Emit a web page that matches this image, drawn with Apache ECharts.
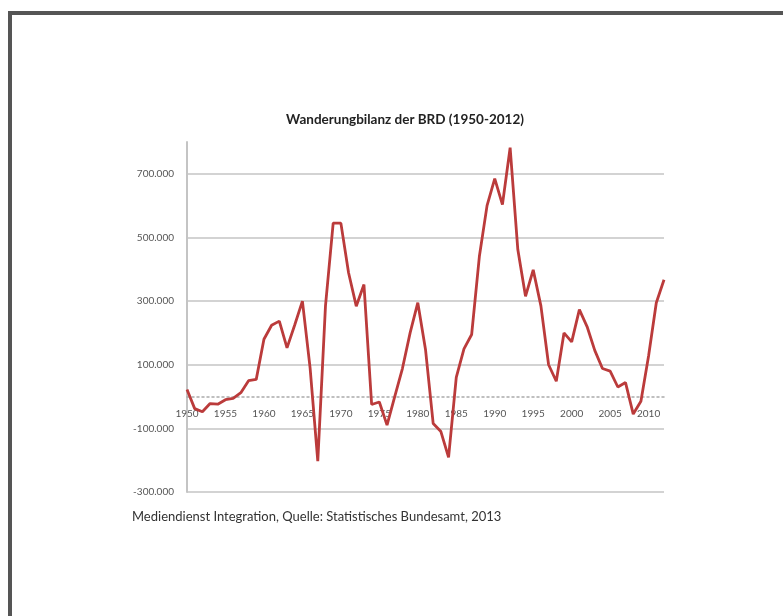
<!DOCTYPE html>
<html>
<head>
<meta charset="utf-8">
<script src="https://cdn.jsdelivr.net/npm/echarts@6/dist/echarts.min.js"></script>
<style>
  html, body { margin: 0; padding: 0; background: #fff; overflow: hidden; }
  #container { width: 783px; height: 616px; }
</style>
</head>
<body>
<div id="container"></div>
<script>
  var years = [];
  for (var y = 1950; y <= 2012; y++) years.push(String(y));

  // Wanderungssaldo
  var saldo = [
    22000, -38000, -48000, -22000, -24000, -10000, -6000, 12000, 50000, 54000,
    180000, 224000, 237000, 153000, 225000, 300000, 90000, -203000, 285000, 545000,
    545000, 389000, 284000, 352000, -25000, -17000, -90000, 0, 88000, 200000,
    295000, 148000, -85000, -110000, -191000, 60000, 150000, 195000, 440000, 600000,
    685000, 603000, 782000, 462000, 315000, 398000, 285000, 100000, 48000, 200000,
    172000, 273000, 220000, 145000, 88000, 80000, 30000, 44000, -55000, -15000,
    128000, 295000, 367000
  ];

  var titleText = 'Wanderungbilanz der BRD (1950-2012)';
  var sourceText = 'Mediendienst Integration, Quelle: Statistisches Bundesamt, 2013';

  var yMin = -300000, yMax = 800000, yStep = 200000;
  var gridTop = 142, gridBottom = 124, gridHeight = 616 - gridTop - gridBottom;
  // lift the category axis (line + year labels) up to the zero line
  var zeroOffset = -gridHeight * (0 - yMin) / (yMax - yMin);

  function fmt(v) {
    var k = Math.round(Math.abs(v) / 1000);
    return (v < 0 ? '-' : '') + k + '.000';
  }

  var chart = echarts.init(document.getElementById('container'), null, { renderer: 'canvas' });

  chart.setOption({
    animation: false,
    textStyle: { fontFamily: 'Lato, sans-serif' },
    grid: { left: 187, right: 119, top: gridTop, bottom: gridBottom },
    graphic: [
      {
        type: 'rect',
        shape: { x: 10, y: 13, width: 820, height: 700 },
        style: { fill: 'none', stroke: '#555', lineWidth: 4 }
      },
      {
        type: 'text', x: 405, y: 120,
        style: {
          text: titleText, align: 'center', verticalAlign: 'middle',
          font: 'bold 13.5px Lato, sans-serif', fill: '#222'
        }
      },
      {
        type: 'text', x: 132, y: 517,
        style: {
          text: sourceText, align: 'left', verticalAlign: 'middle',
          font: '13px Lato, sans-serif', fill: '#333'
        }
      }
    ],
    xAxis: {
      type: 'category',
      data: years,
      boundaryGap: false,
      offset: zeroOffset,
      axisLine: { onZero: false, lineStyle: { color: '#aaa', width: 1.5, type: [2, 3] } },
      axisTick: { show: false },
      axisLabel: {
        interval: function (i, v) { return Number(v) % 5 === 0; },
        color: '#555', fontSize: 10, margin: 12
      },
      splitLine: { show: false }
    },
    yAxis: {
      type: 'value',
      min: yMin, max: yMax, interval: yStep,
      axisLine: { show: true, lineStyle: { color: '#c4c4c4', width: 2 } },
      axisTick: { show: false },
      axisLabel: {
        formatter: fmt, color: '#555', fontSize: 10, margin: 13,
        showMaxLabel: false
      },
      splitLine: { show: true, showMaxLine: false, lineStyle: { color: '#c4c4c4', width: 1.5 } }
    },
    series: [{
      type: 'line',
      data: saldo,
      showSymbol: false,
      symbol: 'none',
      lineStyle: { color: '#bb3b3b', width: 2.8 },
      itemStyle: { color: '#bb3b3b' }
    }]
  });
</script>
</body>
</html>
